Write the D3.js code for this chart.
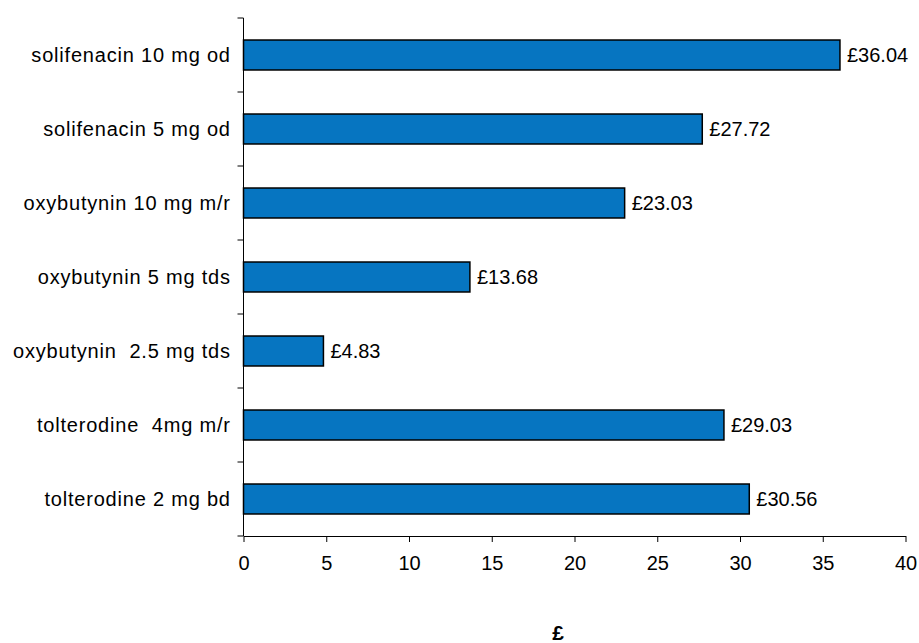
<!DOCTYPE html>
<html>
<head>
<meta charset="utf-8">
<script src="https://cdn.jsdelivr.net/npm/d3@7"></script>
<style>
  html, body { margin: 0; padding: 0; background: #fff; }
  svg { display: block; }
  text { font-family: "Liberation Sans", Arial, sans-serif; fill: #000; }
</style>
</head>
<body>
<svg id="chart" width="919" height="643"></svg>
<script>
// Monthly cost per drug regimen (£)
const drugs = [
  "solifenacin 10 mg od",
  "solifenacin 5 mg od",
  "oxybutynin 10 mg m/r",
  "oxybutynin 5 mg tds",
  "oxybutynin  2.5 mg tds",
  "tolterodine  4mg m/r",
  "tolterodine 2 mg bd"
];
const costs = [36.04, 27.72, 23.03, 13.68, 4.83, 29.03, 30.56];
const costLabels = ["£36.04", "£27.72", "£23.03", "£13.68", "£4.83", "£29.03", "£30.56"];
const xTicks = [0, 5, 10, 15, 20, 25, 30, 35, 40];
const axisTitle = "£";

const svg = d3.select("#chart");
const plotLeft = 243.5, plotRight = 905.5, plotTop = 18, plotBottom = 536;
const fontSize = 20;

const x = d3.scaleLinear().domain([0, 40]).range([plotLeft, plotRight]);
const y = d3.scaleBand().domain(drugs).range([plotTop, plotBottom]).padding(0);
const barH = y.bandwidth() * 0.405;

// Bars
svg.append("g").selectAll("rect")
  .data(drugs)
  .join("rect")
  .attr("x", x(0))
  .attr("y", d => y(d) + (y.bandwidth() - barH) / 2)
  .attr("width", (d, i) => x(costs[i]) - x(0))
  .attr("height", barH)
  .attr("fill", "#0675C1")
  .attr("stroke", "#000")
  .attr("stroke-width", 1.5);

// Value labels
svg.append("g").selectAll("text")
  .data(drugs)
  .join("text")
  .attr("x", (d, i) => x(costs[i]) + 7)
  .attr("y", d => y(d) + y.bandwidth() / 2)
  .attr("dy", "0.36em")
  .style("font-size", fontSize + "px")
  .text((d, i) => costLabels[i]);

// Y axis: line, category boundary ticks, labels
const yAxis = svg.append("g");
yAxis.append("line")
  .attr("x1", plotLeft).attr("x2", plotLeft)
  .attr("y1", plotTop).attr("y2", plotBottom)
  .attr("stroke", "#000").attr("stroke-width", 1);
const bounds = drugs.map(d => y(d)).concat([y.range()[1]]);
yAxis.selectAll("line.tick")
  .data(bounds)
  .join("line")
  .attr("class", "tick")
  .attr("x1", plotLeft - 6).attr("x2", plotLeft)
  .attr("y1", d => d).attr("y2", d => d)
  .attr("stroke", "#000").attr("stroke-width", 1);
yAxis.selectAll("text")
  .data(drugs)
  .join("text")
  .attr("x", 230.8)
  .attr("y", d => y(d) + y.bandwidth() / 2)
  .attr("dy", "0.36em")
  .attr("text-anchor", "end")
  .style("font-size", fontSize + "px")
  .style("letter-spacing", "0.8px")
  .style("white-space", "pre")
  .attr("xml:space", "preserve")
  .text(d => d);

// X axis
const xAxis = svg.append("g")
  .attr("transform", `translate(0,${plotBottom})`)
  .call(d3.axisBottom(x).tickValues(xTicks).tickSize(6).tickPadding(14).tickSizeOuter(0));
xAxis.select(".domain").attr("stroke", "#000");
xAxis.selectAll(".tick line").attr("stroke", "#000");
xAxis.selectAll(".tick text")
  .style("font-size", fontSize + "px")
  .style("font-family", "'Liberation Sans', Arial, sans-serif")
  .attr("fill", "#000");

// Axis title
svg.append("text")
  .attr("x", 558)
  .attr("y", 640)
  .attr("text-anchor", "middle")
  .style("font-size", "21px")
  .style("font-weight", "bold")
  .text(axisTitle);
</script>
</body>
</html>
